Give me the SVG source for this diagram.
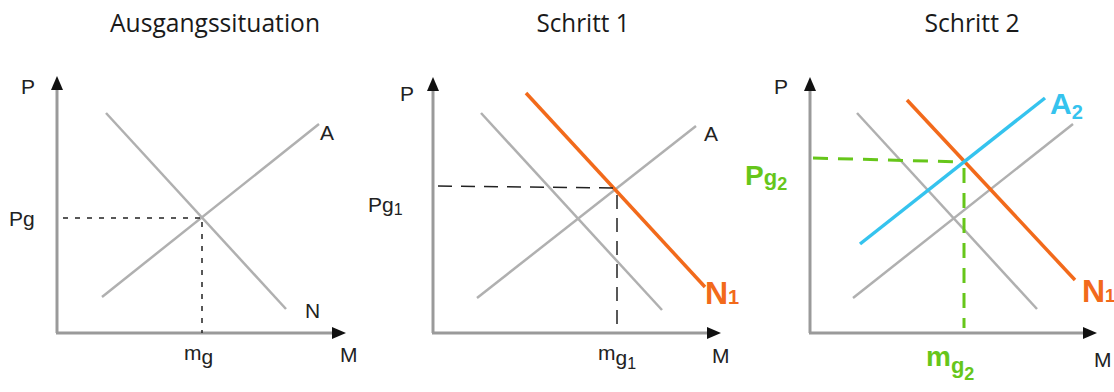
<svg xmlns="http://www.w3.org/2000/svg" width="1114" height="392" viewBox="0 0 1114 392">
<style>
.title{font-family:"Open Sans","Liberation Sans",sans-serif;font-size:25px;fill:#1a1a1a;text-anchor:middle}
.axis{stroke:#9a9a9a;stroke-width:3;fill:none}
.gray{stroke:#b0b0b0;stroke-width:2.5;fill:none}
.org{stroke:#f26a1b;stroke-width:3.5;fill:none}
.blue{stroke:#35c3ee;stroke-width:3.5;fill:none}
.dash1{stroke:#222;stroke-width:1.5;stroke-dasharray:5 7;fill:none}
.dash2{stroke:#222;stroke-width:1.5;stroke-dasharray:14 9;fill:none}
.dashg{stroke:#66c61a;stroke-width:3;stroke-dasharray:15 10;fill:none}
.arr{fill:#111}
.lbl{font-family:"Liberation Sans",sans-serif;font-size:21px;fill:#222}
.lo{font-family:"Liberation Sans",sans-serif;font-size:32px;font-weight:bold;fill:#f26a1b}
.lb{font-family:"Liberation Sans",sans-serif;font-size:30px;font-weight:bold;fill:#35c3ee}
.lg{font-family:"Liberation Sans",sans-serif;font-size:28px;font-weight:bold;fill:#66c61a}
.sub{font-size:16px}
</style>
<text class="title" x="215" y="32" textLength="210" lengthAdjust="spacingAndGlyphs">Ausgangssituation</text>
<text class="title" x="583" y="32" textLength="93" lengthAdjust="spacingAndGlyphs">Schritt 1</text>
<text class="title" x="972" y="32" textLength="95" lengthAdjust="spacingAndGlyphs">Schritt 2</text>

<g id="panel1">
<line class="axis" x1="57" y1="86" x2="57" y2="333"/>
<line class="axis" x1="56" y1="333" x2="336" y2="333"/>
<polygon class="arr" points="57,76 51,90 63,90"/>
<polygon class="arr" points="346,333 332,327 332,339"/>
<line class="gray" x1="106" y1="113" x2="286" y2="309"/>
<line class="gray" x1="102" y1="297" x2="319" y2="124"/>
<line class="dash1" x1="63" y1="218" x2="202" y2="218"/>
<line class="dash1" x1="202" y1="222" x2="202" y2="333"/>
<text class="lbl" x="21" y="94">P</text>
<text class="lbl" x="9" y="226">P<tspan>g</tspan></text>
<text class="lbl" font-size="25" x="320" y="140">A</text>
<text class="lbl" x="305" y="318">N</text>
<text class="lbl" font-size="23" x="340" y="362">M</text>
<text class="lbl" x="184" y="360">m<tspan dy="4">g</tspan></text>
</g>

<g id="panel2">
<line class="axis" x1="433" y1="87" x2="433" y2="333"/>
<line class="axis" x1="432" y1="333" x2="711" y2="333"/>
<polygon class="arr" points="433,77 427,91 439,91"/>
<polygon class="arr" points="721,333 707,327 707,339"/>
<line class="gray" x1="481" y1="113" x2="662" y2="310"/>
<line class="gray" x1="477" y1="298" x2="696" y2="126"/>
<line class="org" x1="526" y1="93" x2="705" y2="287"/>
<line class="dash2" x1="438" y1="186" x2="615" y2="188"/>
<line class="dash2" x1="617" y1="195" x2="617" y2="333"/>
<text class="lbl" x="400" y="101">P</text>
<text class="lbl" x="368" y="212">P<tspan>g</tspan><tspan class="sub" dy="3">1</tspan></text>
<text class="lbl" font-size="25" x="704" y="141">A</text>
<text class="lo" x="705" y="304">N<tspan font-size="20">1</tspan></text>
<text class="lbl" x="712" y="363">M</text>
<text class="lbl" x="598" y="360">m<tspan dy="5">g</tspan><tspan class="sub" dy="4">1</tspan></text>
</g>

<g id="panel3">
<line class="axis" x1="810" y1="87" x2="810" y2="333"/>
<line class="axis" x1="809" y1="333" x2="1087" y2="333"/>
<polygon class="arr" points="810,77 804,91 816,91"/>
<polygon class="arr" points="1097,333 1083,327 1083,339"/>
<line class="gray" x1="857" y1="113" x2="1037" y2="309"/>
<line class="gray" x1="853" y1="298" x2="1073" y2="124"/>
<line class="org" x1="907" y1="100" x2="1075" y2="280"/>
<line class="blue" x1="860" y1="244" x2="1045" y2="98"/>
<line class="dashg" x1="813" y1="158" x2="962" y2="162"/>
<line class="dashg" x1="964" y1="168" x2="964" y2="328"/>
<text class="lbl" x="774" y="94">P</text>
<text class="lg" x="745" y="185">P<tspan font-size="22">g</tspan><tspan font-size="18" dy="5">2</tspan></text>
<text class="lb" x="1050" y="114">A<tspan font-size="20" dy="5">2</tspan></text>
<text class="lo" font-weight="normal" font-size="28" x="1082" y="302">N<tspan font-size="18">1</tspan></text>
<text class="lbl" font-size="23" x="1094" y="367">M</text>
<text class="lg" x="926" y="366">m<tspan font-size="22" dy="7">g</tspan><tspan font-size="18" dy="7">2</tspan></text>
</g>
</svg>
